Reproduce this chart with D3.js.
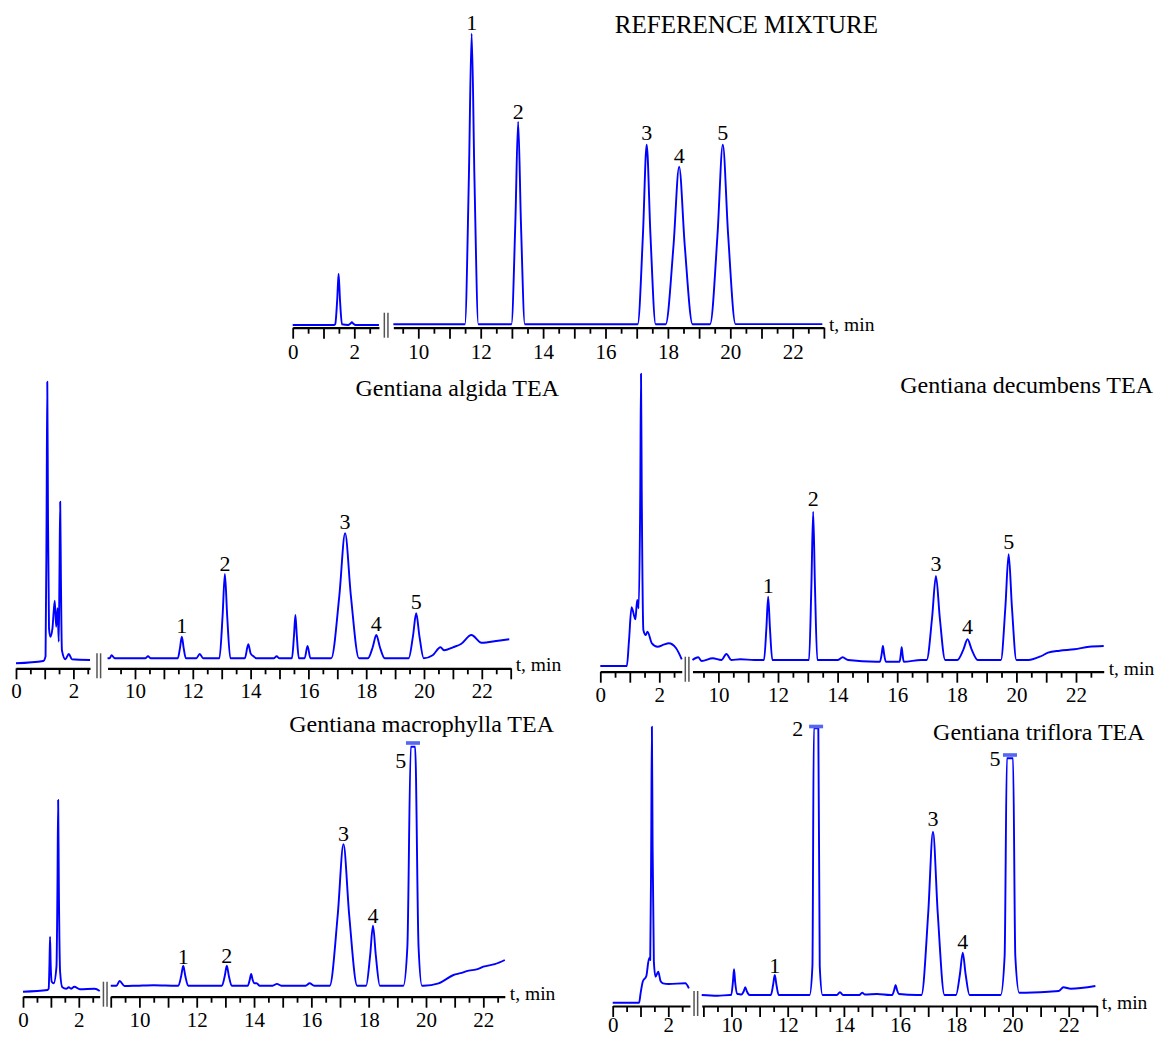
<!DOCTYPE html>
<html>
<head>
<meta charset="utf-8">
<script src="https://cdn.jsdelivr.net/npm/d3@7"></script>
<style>
  body { margin: 0; background: #fff; }
  svg { display: block; }
</style>
</head>
<body>
<svg></svg>
<script>
const width = 1155;
const height = 1037;

// ---- data: chromatogram traces as [t (min), signal] ----
const refLeft = [[0,2.7],[1.35,2.7],[1.38,3.4],[1.445,28],[1.49,54],[1.535,28],[1.6,3.4],[1.8,2.7],[1.87,4],[1.92,5.4],[1.97,4],[2.04,2.7],[2.8,2.7]];
const refRight = [[9.2,3.4],[11.3,3.4],
  [11.494,3.4],[11.62,148.7],[11.71,294],[11.8,148.7],[11.926,3.4],[12.8,3.4],
  [12.984,3.4],[13.11,104.7],[13.2,206],[13.29,104.7],[13.416,3.4],[16.8,3.4],
  [17.032,3.4],[17.2,93.2],[17.32,183],[17.44,93.2],[17.608,3.4],
  [17.928,3.4],[18.18,82.2],[18.36,161],[18.54,82.2],[18.792,3.4],
  [19.352,3.4],[19.59,93.2],[19.76,183],[19.93,93.2],[20.168,3.6],[22.95,3.6]];

const algidaLeft = [[0,5],[0.95,7.3],[1.03,12],[1.065,150],[1.09,286.6],[1.115,150],[1.15,40],[1.2,31.6],[1.27,40],[1.35,67.6],[1.4,41.6],[1.45,60],[1.49,26.6],[1.515,95],[1.54,166.6],[1.565,90],[1.6,18],[1.72,9],[1.84,14.3],[1.95,9],[2.58,8.3]];
const algidaRight = [[9.05,10],[9.12,10],[9.19,13],[9.3,10],[10.35,10],[10.45,12],[10.55,10],
  [11.48,10],[11.56,21],[11.62,31.6],[11.68,21],[11.76,10],
  [12.12,10],[12.24,14.3],[12.36,10],
  [12.92,10],[13.03,52],[13.11,94.3],[13.19,52],[13.3,10],
  [13.8,10],[13.92,24],[14.0,15],[14.1,12],[14.2,10],
  [14.8,10],[14.9,12],[15.0,10],
  [15.43,10],[15.5,32],[15.55,53.3],[15.6,32],[15.67,10],
  [15.87,10],[15.97,22.3],[16.07,10],
  [16.79,10],[17.07,72.5],[17.27,135],[17.47,72.5],[17.75,10],
  [18.06,10],[18.23,21.6],[18.35,33.3],[18.47,21.6],[18.64,10],
  [19.47,10],[19.62,32.5],[19.73,55],[19.84,32.5],[19.99,10],
  [20.3,13],[20.57,21],[20.7,18],[21.0,21],[21.28,24.3],[21.64,33.3],[21.99,25.6],[22.57,27.6],[22.95,29]];

const decumbensLeft = [[0,5.7],[0.9,5.7],[0.97,30],[1.06,64.4],[1.19,52.4],[1.25,71.7],[1.3,63.4],[1.355,180],[1.38,298],[1.405,180],[1.46,41.7],[1.54,36.7],[1.6,40],[1.75,28.4],[1.94,25],[2.15,27],[2.32,28.4],[2.57,23.4],[2.76,12.4]];
const decumbensRight = [[9.13,11.7],[9.32,14.4],[9.44,10.7],[9.81,13.4],[10.1,11.7],[10.27,17.7],[10.43,11.7],[10.74,12.4],[11.2,11.7],
  [11.53,11.7],[11.61,43.3],[11.67,75],[11.73,43.3],[11.81,11.7],[12.9,11.7],
  [13.04,11.7],[13.12,85.8],[13.18,160],[13.24,85.8],[13.32,11.7],
  [14.0,11.7],[14.17,14.4],[14.35,11.7],[15.3,10],
  [15.42,10],[15.48,17.8],[15.52,25.7],[15.56,17.8],[15.62,10],[15.95,10],
  [16.08,10],[16.12,17],[16.15,24.4],[16.18,17],[16.22,10],[16.8,11.7],
  [16.99,11.7],[17.17,53.7],[17.3,95.7],[17.43,53.7],[17.61,11.7],
  [18.02,11.7],[18.22,22],[18.36,32.4],[18.5,22],[18.7,11.7],
  [19.48,11.7],[19.63,64.5],[19.74,117.4],[19.85,64.5],[20.0,11.7],
  [20.4,11.7],[20.84,15.7],[21.06,19],[21.45,21],[21.95,22.4],[22.44,25],[22.93,25.7]];

const macroLeft = [[0,5],[0.88,6.7],[0.92,8],[0.95,35],[0.97,60],[0.99,35],[1.03,15],[1.1,13.4],[1.2,30],[1.235,110],[1.26,196.7],[1.285,110],[1.33,25],[1.41,9.4],[1.55,8],[1.64,9.5],[1.72,8],[1.84,10],[2.04,7.4],[2.57,8],[2.75,5.7]];
const macroRight = [[9.0,11],[9.2,11],[9.31,15.7],[9.48,10.7],[9.9,11],[10.5,11.5],[11.3,11],
  [11.36,11],[11.46,21],[11.53,31],[11.6,21],[11.7,11],[12.8,11],
  [12.88,11],[12.98,21],[13.05,31],[13.12,21],[13.22,11],[13.75,11],
  [13.78,11],[13.85,17],[13.9,22.7],[13.95,17],[14.02,13.4],[14.09,13.4],[14.2,11],
  [14.65,11],[14.8,12.8],[14.95,11],[15.8,11],[15.94,13.4],[16.1,11],
  [16.64,11],[16.92,81.7],[17.12,152.4],[17.32,81.7],[17.6,11],
  [17.91,11],[18.05,41],[18.15,71],[18.25,41],[18.39,11],
  [19.21,11],[19.35,50],[19.47,250],[19.545,250],[19.62,250],[19.74,50],[19.86,11],
  [19.92,11],[20.44,13.4],[20.96,21.7],[21.2,23.5],[21.49,26],[21.8,27.5],[22.0,30],[22.4,32.5],[22.75,36.7]];

const trifloraLeft = [[0,3.3],[0.95,3.3],[1.0,12],[1.08,24.3],[1.21,30],[1.31,47.7],[1.35,46],[1.385,160],[1.41,279.3],[1.435,160],[1.48,45],[1.54,29.3],[1.64,34.3],[1.72,25],[1.81,22.7],[2.01,22],[2.61,22.7],[2.74,17.7]];
const trifloraRight = [[8.94,11],[9.5,10.3],[9.95,11],
  [9.99,11],[10.05,23.8],[10.09,36.7],[10.13,23.8],[10.2,12],[10.23,12],[10.35,11.5],[10.44,15],[10.49,18.7],[10.54,15],[10.65,11],
  [11.35,11],[11.4,11],[11.48,21],[11.54,31],[11.6,21],[11.68,11],[12.7,11],
  [12.78,11],[12.88,40],[12.93,277.7],[13.01,277.7],[13.09,277.7],[13.14,40],[13.24,11],
  [13.75,11],[13.86,13.7],[13.97,11],[14.55,11],[14.65,13.3],[14.75,11.5],[15.18,12],[15.65,11],
  [15.72,11],[15.79,16],[15.84,21],[15.89,16],[15.96,12],[16.6,11],
  [16.76,11],[17.0,92.7],[17.17,174.3],[17.34,92.7],[17.58,11],
  [17.99,11],[18.13,32],[18.23,53.3],[18.33,32],[18.47,11],
  [19.58,11],[19.72,50],[19.8,247.7],[19.91,247.7],[20.02,247.7],[20.1,50],[20.24,13.3],
  [21.28,14.3],[21.65,15],[21.81,18.7],[22.07,17.3],[22.95,20]];

// peak numbers: [label, t, signal at label centre]
const refLabels = [["1",11.71,305],["2",13.2,216],["3",17.32,195],["4",18.36,172.7],["5",19.76,195]];
const algidaLabels = [["1",11.62,43.3],["2",13.11,105],["3",17.27,146.6],["4",18.35,45],["5",19.73,66.6]];
const decumbensLabels = [["1",11.67,86.7],["2",13.18,173.4],["3",17.3,108.4],["4",18.36,45],["5",19.74,130]];
const macroLabels = [["1",11.53,40],["2",13.05,41.7],["3",17.12,163.4],["4",18.15,81.7],["5",19.12,236.7]];
const trifloraLabels = [["1",11.54,41],["2",12.36,277.7],["3",17.17,187.7],["4",18.23,64.3],["5",19.38,247.7]];

// off-scale markers on clipped peaks: [t, signal]
const macroClips = [[19.545,253.7]];
const trifloraClips = [[13.01,279.5],[19.91,251]];

const tickLabels = [0, 2, 10, 12, 14, 16, 18, 20, 22];

// ---- layout of the five panels ----
const panels = [
  { title: "REFERENCE MIXTURE", titleX: 878, titleY: 33.3, titleSize: 25, axisY: 327.7, pad: 5,
    left: { domain: [0, 2.8], x0: 292.7, k: 30.8 },
    right: { domain: [9.2, 23], x10: 418.3, k: 31.2 },
    traces: [refLeft, refRight], labels: refLabels, clips: [] },
  { title: "Gentiana algida TEA", titleX: 559, titleY: 396, titleSize: 24, axisY: 668.3, pad: 4,
    left: { domain: [0, 2.58], x0: 16, k: 28.7 },
    right: { domain: [9.05, 23], x10: 135, k: 28.9 },
    traces: [algidaLeft, algidaRight], labels: algidaLabels, clips: [] },
  { title: "Gentiana decumbens TEA", titleX: 1153, titleY: 392.7, titleSize: 24, axisY: 671.7, pad: 4,
    left: { domain: [0, 2.76], x0: 600.3, k: 29.5 },
    right: { domain: [9.13, 22.93], x10: 718.4, k: 29.8 },
    traces: [decumbensLeft, decumbensRight], labels: decumbensLabels, clips: [] },
  { title: "Gentiana macrophylla TEA", titleX: 554, titleY: 732.3, titleSize: 24, axisY: 996.7, pad: 4,
    left: { domain: [0, 2.75], x0: 23, k: 27.9 },
    right: { domain: [9.0, 22.75], x10: 139.4, k: 28.66 },
    traces: [macroLeft, macroRight], labels: macroLabels, clips: macroClips },
  { title: "Gentiana triflora TEA", titleX: 1144.6, titleY: 740, titleSize: 24, axisY: 1006, pad: 0.5,
    left: { domain: [0, 2.78], x0: 612.7, k: 27.8 },
    right: { domain: [8.94, 23], x10: 731.5, k: 28.1 },
    traces: [trifloraLeft, trifloraRight], labels: trifloraLabels, clips: trifloraClips }
];

const serif = "'Liberation Serif', 'DejaVu Serif', serif";

const svg = d3.select("svg")
    .attr("width", width)
    .attr("height", height)
    .attr("viewBox", `0 0 ${width} ${height}`);

svg.append("rect")
    .attr("width", width)
    .attr("height", height)
    .attr("fill", "#fff");

panels.forEach(p => {
    const g = svg.append("g");

    const y = d3.scaleLinear()
        .domain([0, 300])
        .range([p.axisY, p.axisY - 300]);

    const xl = d3.scaleLinear()
        .domain(p.left.domain)
        .range(p.left.domain.map(t => p.left.x0 + p.left.k * t));

    const xr = d3.scaleLinear()
        .domain(p.right.domain)
        .range(p.right.domain.map(t => p.right.x10 + p.right.k * (t - 10)));

    // broken time axis: two segments, long ticks each minute, short every half minute
    [xl, xr].forEach(x => {
        const dom = x.domain();
        const steps = d3.range(Math.ceil(dom[0] * 2) / 2, dom[1] + 0.001, 0.5);
        const major = steps.filter(t => Number.isInteger(t));
        const minor = steps.filter(t => !Number.isInteger(t));

        const ax = g.append("g")
            .attr("transform", `translate(0,${p.axisY})`)
            .call(d3.axisBottom(x)
                .tickValues(major)
                .tickSize(11)
                .tickSizeOuter(0)
                .tickPadding(p.pad)
                .tickFormat(d => tickLabels.includes(d) ? d : ""))
            .attr("font-family", serif)
            .attr("font-size", 21);
        ax.select(".domain").attr("stroke", "#000").attr("stroke-width", 2.2);
        ax.selectAll(".tick line").attr("stroke", "#000").attr("stroke-width", 1.8);
        ax.selectAll(".tick text").attr("fill", "#000");

        const axMinor = g.append("g")
            .attr("transform", `translate(0,${p.axisY})`)
            .call(d3.axisBottom(x)
                .tickValues(minor)
                .tickSize(6)
                .tickSizeOuter(0)
                .tickFormat(""));
        axMinor.select(".domain").remove();
        axMinor.selectAll(".tick line").attr("stroke", "#000").attr("stroke-width", 1.8);
    });

    // break mark between the segments
    const mid = (xl.range()[1] + xr.range()[0]) / 2;
    [-1.8, 1.8].forEach(dx => {
        g.append("line")
            .attr("x1", mid + dx).attr("x2", mid + dx)
            .attr("y1", p.axisY - 15).attr("y2", p.axisY + 10)
            .attr("stroke", "#555")
            .attr("stroke-width", 1.5);
    });

    g.append("text")
        .attr("x", xr.range()[1] + 5)
        .attr("y", p.axisY + 3)
        .attr("font-family", serif)
        .attr("font-size", 19.5)
        .attr("fill", "#000")
        .text("t, min");

    // traces
    [xl, xr].forEach((x, i) => {
        const line = d3.line()
            .x(d => x(d[0]))
            .y(d => y(d[1]))
            .curve(d3.curveMonotoneX);
        g.append("path")
            .datum(p.traces[i])
            .attr("d", line)
            .attr("fill", "none")
            .attr("stroke", "#0000ff")
            .attr("stroke-width", 1.9)
            .attr("stroke-linejoin", "round");
    });

    // off-scale markers
    g.selectAll(".clip")
        .data(p.clips)
        .enter().append("rect")
        .attr("class", "clip")
        .attr("x", d => xr(d[0]) - 7)
        .attr("y", d => y(d[1]) - 1.8)
        .attr("width", 14)
        .attr("height", 3.6)
        .attr("fill", "#5566f0");

    // peak numbers
    g.selectAll(".peak-label")
        .data(p.labels)
        .enter().append("text")
        .attr("class", "peak-label")
        .attr("x", d => xr(d[1]))
        .attr("y", d => y(d[2]))
        .attr("dy", "0.35em")
        .attr("text-anchor", "middle")
        .attr("font-family", serif)
        .attr("font-size", 22)
        .attr("fill", "#000")
        .text(d => d[0]);

    g.append("text")
        .attr("x", p.titleX)
        .attr("y", p.titleY)
        .attr("text-anchor", "end")
        .attr("font-family", serif)
        .attr("font-size", p.titleSize)
        .attr("fill", "#000")
        .text(p.title);
});
</script>
</body>
</html>
